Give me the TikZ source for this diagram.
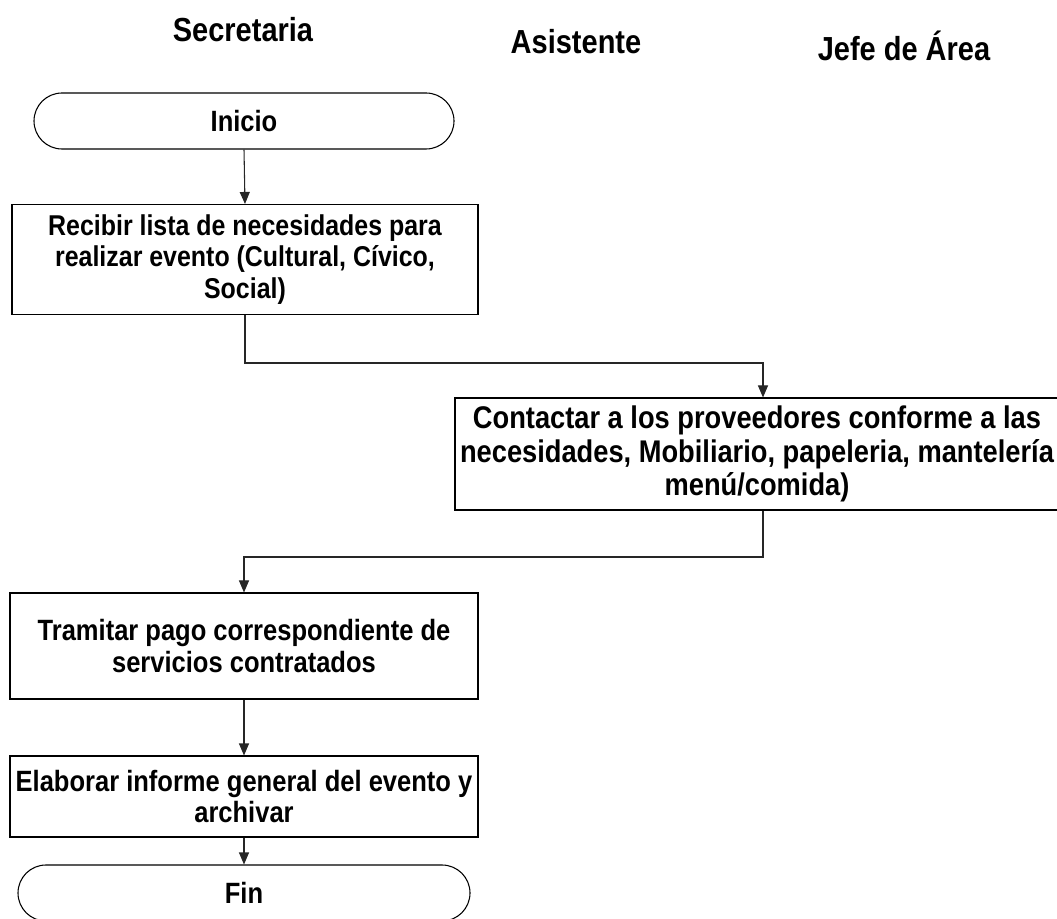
\documentclass[tikz,border=0pt]{standalone}
\usepackage{fontspec}
\setmainfont{Liberation Sans}[FakeStretch=0.87]
\usetikzlibrary{arrows.meta}
\tikzset{
  box/.style={draw=black, line width=0.8pt, rectangle, align=center, inner sep=0pt,
    font=\bfseries\fontsize{22}{23.6}\selectfont},
  bigbox/.style={box, font=\bfseries\fontsize{23.5}{25.2}\selectfont},
  term/.style={box, rounded corners=21pt},
  head/.style={font=\bfseries\fontsize{25}{28}\selectfont, inner sep=0pt},
  arr/.style={draw=black!85, line width=0.8pt, -{Triangle[length=9pt,width=7.5pt]}}
}
\begin{document}
\begin{tikzpicture}[x=0.75pt,y=-0.75pt]
\path[use as bounding box] (0,0) rectangle (1057,919);
\clip (0,0) rectangle (1057,919);

\node[head] (h1) at (243,30) {Secretaria};
\node[head] (h2) at (576,42) {Asistente};
\node[head] (h3) at (904,46) {Jefe de Área};

\node[term, minimum width=420*0.75pt, minimum height=56*0.75pt] (inicio) at (244,121) {Inicio};
\node[box, font=\bfseries\fontsize{21.5}{23.6}\selectfont, minimum width=466*0.75pt, minimum height=110*0.75pt] (b1) at (245,259.5)
  {Recibir lista de necesidades para\\realizar evento (Cultural, Cívico,\\Social)};
\node[bigbox, minimum width=604*0.75pt, minimum height=112*0.75pt] (b2) at (757,454)
  {Contactar a los proveedores conforme a las\\necesidades, Mobiliario, papeleria, mantelería\\menú/comida)};
\node[box, minimum width=468*0.75pt, minimum height=106*0.75pt] (b3) at (244,646)
  {Tramitar pago correspondiente de\\servicios contratados};
\node[box, minimum width=468*0.75pt, minimum height=81*0.75pt] (b4) at (244,796.5)
  {Elaborar informe general del evento y\\archivar};
\node[term, minimum width=452*0.75pt, minimum height=56*0.75pt] (fin) at (244,893) {Fin};

\draw[arr] (inicio.south) -- (b1.north);
\draw[arr] (b1.south) -- (b1.south |- 0,363) -| ([xshift=6*0.75pt]b2.north);
\draw[arr] ([xshift=6*0.75pt]b2.south) -- ([xshift=6*0.75pt]b2.south |- 0,557) -| (b3.north);
\draw[arr] (b3.south) -- (b4.north);
\draw[arr] (b4.south) -- (fin.north);
\end{tikzpicture}
\end{document}
